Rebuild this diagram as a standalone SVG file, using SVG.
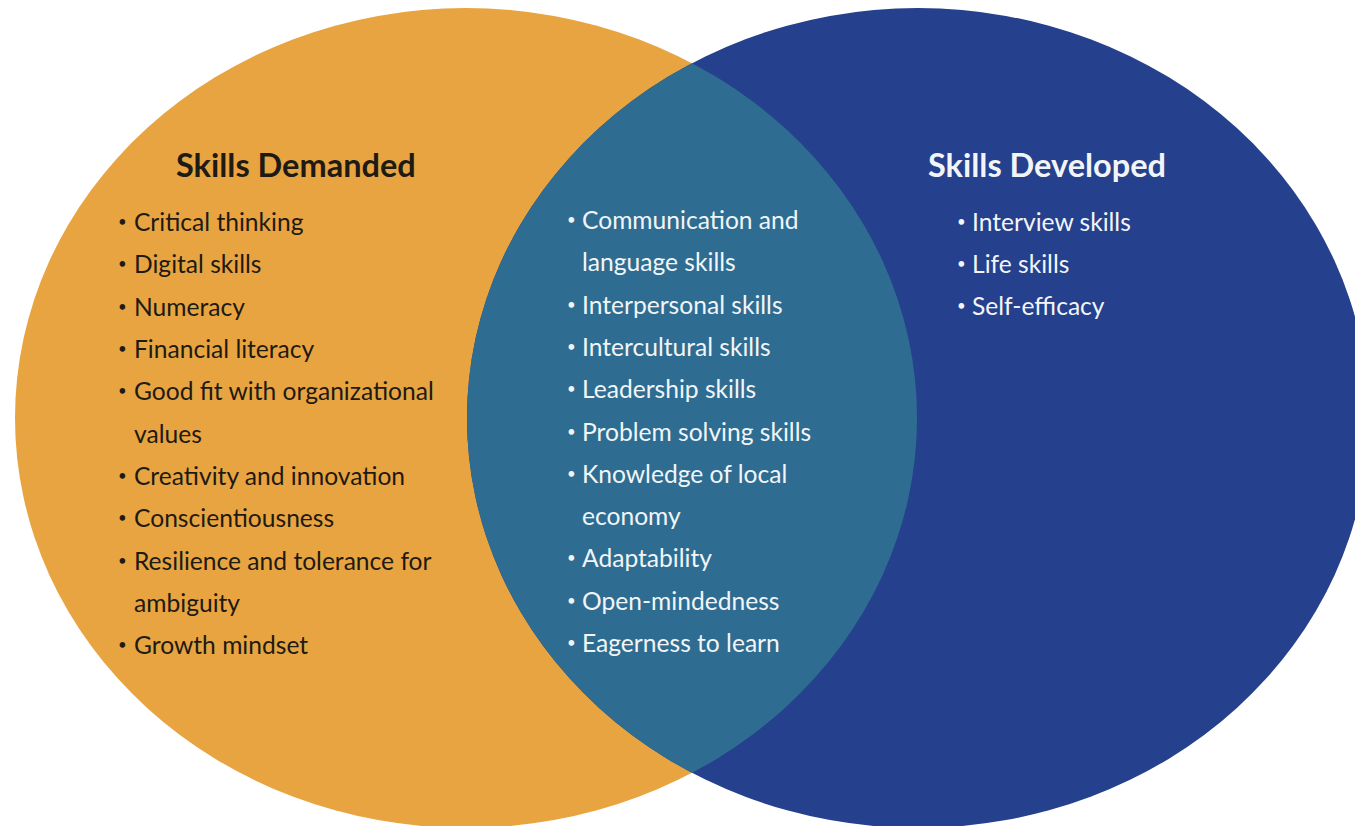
<svg xmlns="http://www.w3.org/2000/svg" width="1355" height="826" viewBox="0 0 1355 826">
  <style>
    .title { font-family: Lato, "Open Sans", sans-serif; font-weight: 700; font-size: 32.5px; }
    .item { font-family: Lato, "Open Sans", sans-serif; font-size: 24.6px; }
    .bullet { font-family: Lato, "Open Sans", sans-serif; font-size: 15px; }
    .dark { fill: #1e1a14; }
    .light { fill: #f2f5f8; }
  </style>
  <defs>
    <clipPath id="clip-left">
      <ellipse cx="466" cy="418" rx="451" ry="410"/>
    </clipPath>
  </defs>

  <!-- Set A: skills demanded by employers -->
  <g id="set-demanded">
    <ellipse cx="466" cy="418" rx="451" ry="410" fill="#e8a440"/>
  </g>

  <!-- Set B: skills developed by the programme -->
  <g id="set-developed">
    <ellipse cx="918" cy="418" rx="451" ry="410" fill="#25408c"/>
  </g>

  <!-- Overlap of both sets -->
  <g id="set-overlap">
    <ellipse cx="918" cy="418" rx="451" ry="410" fill="#2e6d91" clip-path="url(#clip-left)"/>
  </g>

  <!-- Left-only labels -->
  <g id="label-demanded" class="dark">
    <text class="title" x="176" y="177">Skills Demanded</text>
    <g class="bullet">
      <text x="118" y="227">•</text>
      <text x="118" y="269">•</text>
      <text x="118" y="312">•</text>
      <text x="118" y="354">•</text>
      <text x="118" y="396">•</text>
      <text x="118" y="481">•</text>
      <text x="118" y="523">•</text>
      <text x="118" y="566">•</text>
      <text x="118" y="650">•</text>
    </g>
    <g class="item">
      <text x="134" y="231">Critical thinking</text>
      <text x="134" y="273">Digital skills</text>
      <text x="134" y="316">Numeracy</text>
      <text x="134" y="358">Financial literacy</text>
      <text x="134" y="400">Good fit with organizational</text>
      <text x="134" y="443">values</text>
      <text x="134" y="485">Creativity and innovation</text>
      <text x="134" y="527">Conscientiousness</text>
      <text x="134" y="570">Resilience and tolerance for</text>
      <text x="134" y="612">ambiguity</text>
      <text x="134" y="654">Growth mindset</text>
    </g>
  </g>

  <!-- Shared labels -->
  <g id="label-overlap" class="light">
    <g class="bullet">
      <text x="567" y="225">•</text>
      <text x="567" y="310">•</text>
      <text x="567" y="352">•</text>
      <text x="567" y="394">•</text>
      <text x="567" y="437">•</text>
      <text x="567" y="479">•</text>
      <text x="567" y="563">•</text>
      <text x="567" y="606">•</text>
      <text x="567" y="648">•</text>
    </g>
    <g class="item">
      <text x="582" y="229">Communication and</text>
      <text x="582" y="271">language skills</text>
      <text x="582" y="314">Interpersonal skills</text>
      <text x="582" y="356">Intercultural skills</text>
      <text x="582" y="398">Leadership skills</text>
      <text x="582" y="441">Problem solving skills</text>
      <text x="582" y="483">Knowledge of local</text>
      <text x="582" y="525">economy</text>
      <text x="582" y="567">Adaptability</text>
      <text x="582" y="610">Open-mindedness</text>
      <text x="582" y="652">Eagerness to learn</text>
    </g>
  </g>

  <!-- Right-only labels -->
  <g id="label-developed" class="light">
    <text class="title" x="928" y="177">Skills Developed</text>
    <g class="bullet">
      <text x="957" y="227">•</text>
      <text x="957" y="269">•</text>
      <text x="957" y="311">•</text>
    </g>
    <g class="item">
      <text x="972" y="231">Interview skills</text>
      <text x="972" y="273">Life skills</text>
      <text x="972" y="315">Self-efficacy</text>
    </g>
  </g>
</svg>
